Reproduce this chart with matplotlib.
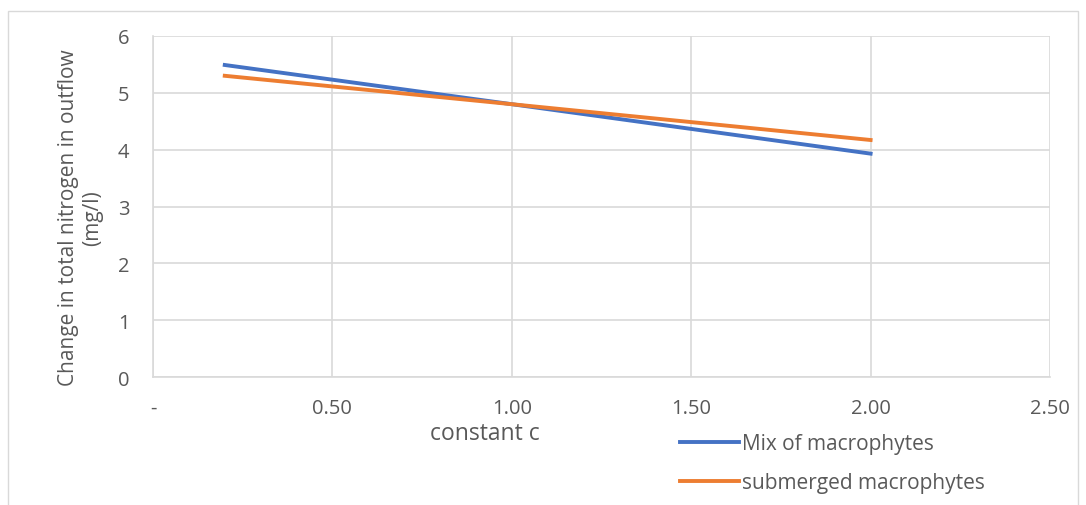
import matplotlib.pyplot as plt
from matplotlib.patches import Rectangle

plt.rcParams['font.family'] = ['Open Sans', 'DejaVu Sans']

c_vals = [0.2, 1.0, 2.0]
mix = [5.49, 4.80, 3.93]
submerged = [5.30, 4.80, 4.17]
x_ticks = [0, 0.5, 1.0, 1.5, 2.0, 2.5]
x_labels = ['-', '0.50', '1.00', '1.50', '2.00', '2.50']

txt = '#595959'
grid = '#d9d9d9'

fig = plt.figure(figsize=(10.86, 5.06), dpi=100)
fig.patches.append(Rectangle((8/1086, -0.1), 1070/1086, 1.1 - 12/506,
                             transform=fig.transFigure, fill=False,
                             edgecolor=grid, linewidth=1))
ax = fig.add_axes([153/1086, 1 - 378/506, 897/1086, 341/506])

l1, = ax.plot(c_vals, mix, color='#4472c4', linewidth=2.8, label='Mix of macrophytes')
l2, = ax.plot(c_vals, submerged, color='#ed7d31', linewidth=2.8, label='submerged macrophytes')

ax.set_xlim(0, 2.5)
ax.set_ylim(0, 6)
ax.set_xticks(x_ticks)
ax.set_xticklabels(x_labels)
ax.set_yticks(range(7))
ax.grid(True, color=grid, linewidth=1.2)
ax.set_axisbelow(True)
for s in ['top', 'right']:
    ax.spines[s].set_visible(False)
for s in ['left', 'bottom']:
    ax.spines[s].set_color(grid)
    ax.spines[s].set_linewidth(1.2)
ax.tick_params(length=0, labelsize=14.5, labelcolor=txt)
ax.tick_params(axis='x', pad=15)
ax.tick_params(axis='y', pad=17)

ax.set_ylabel('Change in total nitrogen in outflow\n(mg/l)', fontsize=15,
              color=txt, linespacing=1.2)
ax.yaxis.set_label_coords(-50/897, 0.47)
fig.text(485/1086, 1 - 434/506, 'constant c', fontsize=16.5, color=txt,
         ha='center', va='center')

fig.legend(handles=[l1, l2], loc='upper left', bbox_to_anchor=(672/1086, 1 - 426/506),
           frameon=False, fontsize=15, labelcolor=txt, handlelength=2.8,
           handletextpad=0.15, labelspacing=0.85, borderaxespad=0)

fig.savefig('out.png', dpi=100)
